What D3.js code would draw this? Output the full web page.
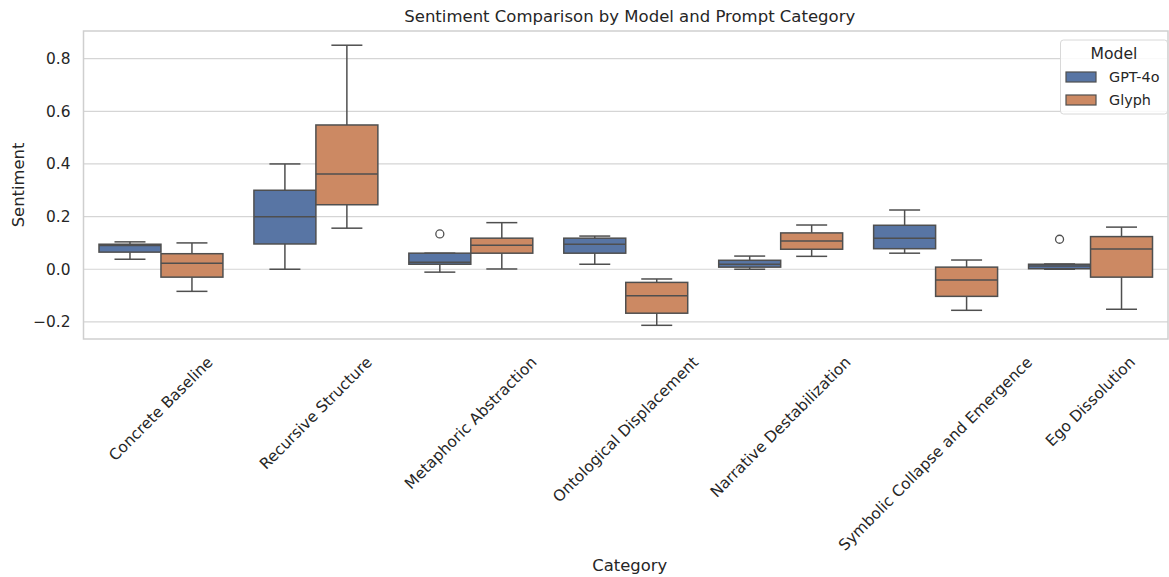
<!DOCTYPE html>
<html><head><meta charset="utf-8">
<script src="https://cdn.jsdelivr.net/npm/d3@7"></script>
<style>body{margin:0;background:#fff;} text{font-family:"DejaVu Sans",sans-serif;fill:#262626;}</style>
</head><body>
<svg id="c" width="1169" height="577"></svg>
<script>
const categories = ["Concrete Baseline","Recursive Structure","Metaphoric Abstraction","Ontological Displacement","Narrative Destabilization","Symbolic Collapse and Emergence","Ego Dissolution"];
const models = ["GPT-4o","Glyph"];
const colors = ["#5875a4","#cc8963"];
// box stats per category: lower whisker, Q1, median, Q3, upper whisker
const gptLow  = [0.038, 0.000, -0.011, 0.019, 0.000, 0.061, 0.000];
const gptQ1   = [0.065, 0.096, 0.019, 0.061, 0.008, 0.078, 0.002];
const gptMed  = [0.090, 0.199, 0.027, 0.095, 0.019, 0.118, 0.012];
const gptQ3   = [0.095, 0.300, 0.061, 0.118, 0.034, 0.167, 0.019];
const gptHigh = [0.104, 0.400, 0.061, 0.126, 0.050, 0.225, 0.020];
const gptOut  = [[], [], [0.134], [], [], [], [0.114]];
const glyLow  = [-0.084, 0.156, 0.001, -0.213, 0.049, -0.156, -0.152];
const glyQ1   = [-0.030, 0.245, 0.061, -0.167, 0.076, -0.103, -0.030];
const glyMed  = [0.023, 0.362, 0.091, -0.101, 0.107, -0.041, 0.077];
const glyQ3   = [0.059, 0.548, 0.118, -0.050, 0.138, 0.008, 0.124];
const glyHigh = [0.100, 0.851, 0.177, -0.037, 0.168, 0.035, 0.160];
const glyOut  = [[], [], [], [], [], [], []];
const yTicks = [-0.2, 0.0, 0.2, 0.4, 0.6, 0.8];

const svg = d3.select("#c");
const L = 83.5, R = 1168, T = 31, B = 339;
const x = d3.scaleBand().domain(categories).range([L, R]);
const bw = x.bandwidth();
const xh = d3.scaleBand().domain(models).range([bw*0.1, bw*0.9]);
const y = d3.scaleLinear().domain([-0.265, 0.905]).range([B, T]);

// grid
svg.append("g").selectAll("line").data(yTicks).join("line")
  .attr("x1", L).attr("x2", R).attr("y1", d=>y(d)).attr("y2", d=>y(d))
  .attr("stroke", "#d5d5d5").attr("stroke-width", 1.2);

// y axis
const yAxis = d3.axisLeft(y).tickValues(yTicks).tickSize(0).tickPadding(13)
  .tickFormat(d => d3.format(".1f")(d).replace("-", "\u2212"));
const ya = svg.append("g").attr("transform", `translate(${L},0)`).call(yAxis);
ya.select(".domain").remove();
ya.selectAll("text").style("font-size", "15.4px").attr("fill", "#262626");

// spines
svg.append("rect").attr("x", L).attr("y", T).attr("width", R-L).attr("height", B-T)
  .attr("fill", "none").attr("stroke", "#cfcfcf").attr("stroke-width", 1.5);

const series = [
  {low: gptLow, q1: gptQ1, med: gptMed, q3: gptQ3, high: gptHigh, out: gptOut},
  {low: glyLow, q1: glyQ1, med: glyMed, q3: glyQ3, high: glyHigh, out: glyOut}
];
const lc = "#4f4f4f";
series.forEach((s, si) => {
  const g = svg.append("g");
  categories.forEach((c, i) => {
    const x0 = x(c) + xh(models[si]);
    const w = xh.bandwidth();
    const cx = x0 + w/2;
    g.append("line").attr("x1", cx).attr("x2", cx).attr("y1", y(s.q3[i])).attr("y2", y(s.high[i])).attr("stroke", lc).attr("stroke-width", 1.5);
    g.append("line").attr("x1", cx).attr("x2", cx).attr("y1", y(s.q1[i])).attr("y2", y(s.low[i])).attr("stroke", lc).attr("stroke-width", 1.5);
    g.append("line").attr("x1", cx - w/4).attr("x2", cx + w/4).attr("y1", y(s.high[i])).attr("y2", y(s.high[i])).attr("stroke", lc).attr("stroke-width", 1.5);
    g.append("line").attr("x1", cx - w/4).attr("x2", cx + w/4).attr("y1", y(s.low[i])).attr("y2", y(s.low[i])).attr("stroke", lc).attr("stroke-width", 1.5);
    g.append("rect").attr("x", x0).attr("width", w)
      .attr("y", y(s.q3[i])).attr("height", Math.max(0.5, y(s.q1[i]) - y(s.q3[i])))
      .attr("fill", colors[si]).attr("stroke", lc).attr("stroke-width", 1.5);
    g.append("line").attr("x1", x0).attr("x2", x0 + w).attr("y1", y(s.med[i])).attr("y2", y(s.med[i])).attr("stroke", lc).attr("stroke-width", 1.5);
    s.out[i].forEach(v => {
      g.append("circle").attr("cx", cx).attr("cy", y(v)).attr("r", 4)
        .attr("fill", "none").attr("stroke", lc).attr("stroke-width", 1.3);
    });
  });
});

// x tick labels rotated 45
const xl = svg.append("g");
categories.forEach(c => {
  const cx = x(c) + bw/2;
  const t = xl.append("text").text(c).style("font-size", "15.4px")
    .attr("text-anchor", "middle").attr("dominant-baseline", "central");
  const len = t.node().getComputedTextLength();
  const h = (len + 16) * Math.SQRT1_2;
  const cy = 354 + h/2;
  t.attr("x", cx).attr("y", cy).attr("transform", `rotate(-45,${cx},${cy})`);
});

// titles
svg.append("text").attr("x", (L+R)/2 + 4).attr("y", 22).attr("text-anchor", "middle")
  .style("font-size", "16.5px").text("Sentiment Comparison by Model and Prompt Category");
svg.append("text").attr("x", (L+R)/2 + 4).attr("y", 571).attr("text-anchor", "middle")
  .style("font-size", "16.4px").text("Category");
svg.append("text").attr("transform", `translate(24,${(T+B)/2}) rotate(-90)`).attr("text-anchor", "middle")
  .style("font-size", "16.4px").text("Sentiment");

// legend
const lg = svg.append("g");
lg.append("rect").attr("x", 1060.5).attr("y", 40).attr("width", 107).attr("height", 74).attr("rx", 3)
  .attr("fill", "rgba(255,255,255,0.85)").attr("stroke", "#d8d8d8").attr("stroke-width", 1);
lg.append("text").attr("x", 1114).attr("y", 59).attr("text-anchor", "middle").style("font-size", "15.6px").text("Model");
models.forEach((m, i) => {
  const yy = 72 + i*23;
  lg.append("rect").attr("x", 1066).attr("y", yy).attr("width", 30).attr("height", 10)
    .attr("fill", colors[i]).attr("stroke", lc).attr("stroke-width", 1.2);
  lg.append("text").attr("x", 1109).attr("y", yy + 10).style("font-size", "14.4px").text(m);
});
</script>
</body></html>
